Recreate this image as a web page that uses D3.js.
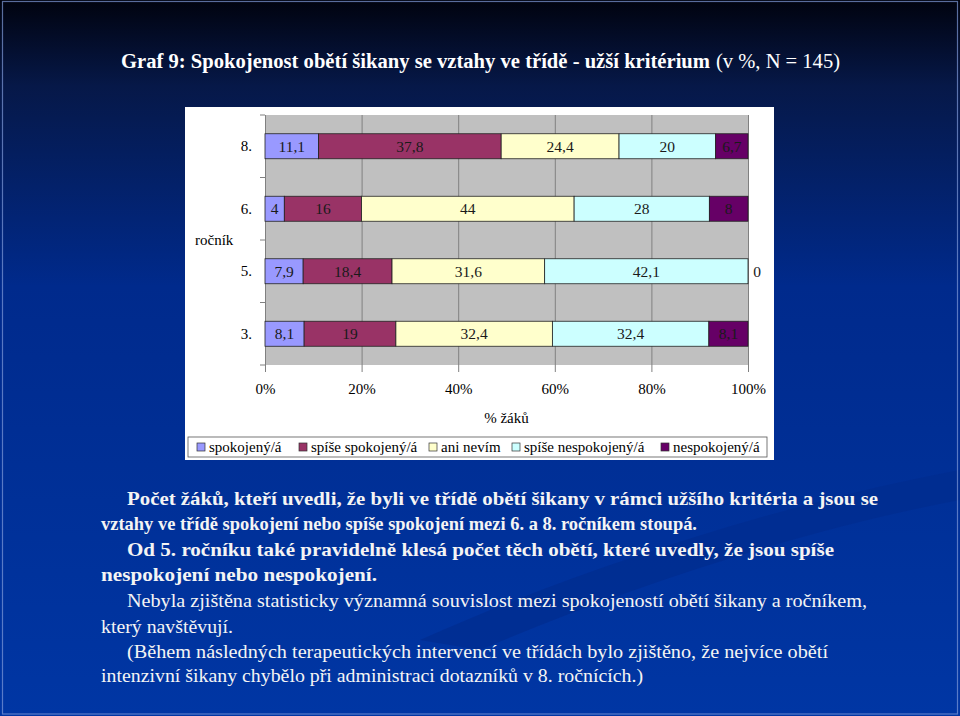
<!DOCTYPE html>
<html>
<head>
<meta charset="utf-8">
<script src="https://cdn.jsdelivr.net/npm/d3@7"></script>
<style>
  html, body { margin: 0; padding: 0; background: #02061c; }
  svg { display: block; }
  svg text { font-family: "Liberation Serif", "DejaVu Serif", serif; }
</style>
</head>
<body>
<svg id="chart"></svg>
<script>
// data
const categories = ["8.", "6.", "5.", "3."];
const seriesNames = ["spokojený/á", "spíše spokojený/á", "ani nevím", "spíše nespokojený/á", "nespokojený/á"];
const spokojeny = [11.1, 4, 7.9, 8.1];
const spiseSpokojeny = [37.8, 16, 18.4, 19];
const aniNevim = [24.4, 44, 31.6, 32.4];
const spiseNespokojeny = [20, 28, 42.1, 32.4];
const nespokojeny = [6.7, 8, 0, 8.1];
const seriesColors = ["#9999ff", "#993366", "#ffffcc", "#ccffff", "#660066"];
const xTicks = [0, 20, 40, 60, 80, 100];

const title = "Graf 9: Spokojenost obětí šikany se vztahy ve třídě - užší kritérium";
const titleTail = "(v %, N = 145)";
const notes = [
  { t: "Počet žáků, kteří uvedli, že byli ve třídě obětí šikany v rámci užšího kritéria a jsou se", x0: 127, x1: 878, bold: true },
  { t: "vztahy ve třídě spokojení nebo spíše spokojení mezi 6. a 8. ročníkem stoupá.", x0: 101, x1: 697, bold: true },
  { t: "Od 5. ročníku také pravidelně klesá počet těch obětí, které uvedly, že jsou spíše", x0: 127, x1: 834, bold: true },
  { t: "nespokojení nebo nespokojení.", x0: 101, x1: 377, bold: true },
  { t: "Nebyla zjištěna statisticky významná souvislost mezi spokojeností obětí šikany a ročníkem,", x0: 127, x1: 867, bold: false },
  { t: "který navštěvují.", x0: 101, x1: 233, bold: false },
  { t: "(Během následných terapeutických intervencí ve třídách bylo zjištěno, že nejvíce obětí", x0: 127, x1: 828, bold: false },
  { t: "intenzivní šikany chybělo při administraci dotazníků v 8. ročnících.)", x0: 101, x1: 643, bold: false }
];

const W = 960, H = 716;
const svg = d3.select("#chart").attr("width", W).attr("height", H);

// slide background
const defs = svg.append("defs");
const bg = defs.append("linearGradient").attr("id", "bg")
  .attr("x1", 0).attr("y1", 0).attr("x2", 0).attr("y2", 1);
bg.append("stop").attr("offset", "0%").attr("stop-color", "#01030f");
bg.append("stop").attr("offset", "12%").attr("stop-color", "#061848");
bg.append("stop").attr("offset", "40%").attr("stop-color", "#002a8c");
bg.append("stop").attr("offset", "100%").attr("stop-color", "#0036a4");
svg.append("rect").attr("width", W).attr("height", H).attr("fill", "url(#bg)");
// faint swoosh on the right
svg.append("path")
  .attr("d", "M 420 640 C 600 560, 800 500, 960 470 L 960 500 C 800 530, 620 590, 480 650 Z")
  .attr("fill", "#002c8e").attr("opacity", 0.7);
// thin light frame of the slide
svg.append("rect")
  .attr("x", 2.5).attr("y", 1.5).attr("width", W - 5).attr("height", H - 3.5)
  .attr("fill", "none").attr("stroke", "#7f9ad8").attr("stroke-width", 1.2).attr("opacity", 0.7);

// title
svg.append("text")
  .attr("x", 121).attr("y", 68)
  .attr("font-size", 20).attr("font-weight", "bold")
  .attr("fill", "#ffffff")
  .attr("textLength", 589).attr("lengthAdjust", "spacingAndGlyphs")
  .text(title);
svg.append("text")
  .attr("x", 716).attr("y", 68)
  .attr("font-size", 20)
  .attr("fill", "#ffffff")
  .attr("textLength", 124).attr("lengthAdjust", "spacingAndGlyphs")
  .text(titleTail);

// chart box
svg.append("rect")
  .attr("x", 185).attr("y", 107).attr("width", 589).attr("height", 353)
  .attr("fill", "#ffffff");

const margin = { left: 265, top: 115 };
const w = 483, h = 250;
const g = svg.append("g").attr("transform", `translate(${margin.left},${margin.top})`);

const xScale = d3.scaleLinear().domain([0, 100]).range([0, w]);
const yScale = d3.scaleBand().domain(categories).range([0, h])
  .paddingInner(0.6).paddingOuter(0.3);

g.append("rect").attr("width", w).attr("height", h).attr("fill", "#c0c0c0");

// gridlines
g.append("g")
  .attr("transform", `translate(0,${h})`)
  .call(d3.axisBottom(xScale).tickValues(xTicks).tickSize(-h).tickFormat(""))
  .call(a => a.select(".domain").remove())
  .call(a => a.selectAll("line").attr("stroke", "#808080"));

// x axis
g.append("g")
  .attr("transform", `translate(0,${h})`)
  .call(d3.axisBottom(xScale).tickValues(xTicks).tickSize(7).tickPadding(11)
    .tickFormat(d => d + "%"))
  .call(a => a.select(".domain").remove())
  .call(a => a.selectAll("line").attr("stroke", "#808080"))
  .call(a => a.selectAll("text").attr("font-family", null).attr("font-size", 15).attr("fill", "#000"));

// y axis
g.append("g")
  .call(d3.axisLeft(yScale).tickSize(0).tickPadding(13))
  .call(a => a.select(".domain").attr("stroke", "#808080"))
  .call(a => a.selectAll("text").attr("font-family", null).attr("font-size", 15).attr("fill", "#000"));
// tick marks at the band boundaries
const step = yScale.step();
g.append("g").selectAll("line")
  .data(d3.range(categories.length + 1))
  .join("line")
  .attr("x1", -5).attr("x2", 0)
  .attr("y1", i => i * step).attr("y2", i => i * step)
  .attr("stroke", "#808080");

g.append("text")
  .attr("x", -70).attr("y", 2 * step + 5)
  .attr("font-size", 15).attr("fill", "#000")
  .text("ročník");

// stacked bars
const table = categories.map((c, i) => ({
  cat: c,
  s0: spokojeny[i], s1: spiseSpokojeny[i], s2: aniNevim[i], s3: spiseNespokojeny[i], s4: nespokojeny[i]
}));
const keys = ["s0", "s1", "s2", "s3", "s4"];
const stacked = d3.stack().keys(keys)(table);

const layers = g.selectAll(".layer")
  .data(stacked)
  .join("g")
  .attr("class", "layer")
  .attr("fill", (d, i) => seriesColors[i]);

layers.selectAll("rect")
  .data(d => d)
  .join("rect")
  .attr("x", d => xScale(d[0]))
  .attr("y", d => yScale(d.data.cat))
  .attr("width", d => xScale(d[1]) - xScale(d[0]))
  .attr("height", yScale.bandwidth())
  .attr("stroke", "#222")
  .attr("stroke-width", 0.8);

layers.selectAll("text")
  .data((layer) => layer.map(d => ({ d, key: layer.key })))
  .join("text")
  .attr("x", ({ d }) => d[1] - d[0] > 0 ? xScale((d[0] + d[1]) / 2) : xScale(d[1]) + 9)
  .attr("y", ({ d }) => yScale(d.data.cat) + yScale.bandwidth() / 2)
  .attr("dy", "0.35em")
  .attr("text-anchor", "middle")
  .attr("font-size", 15.5)
  .attr("fill", "#1a1a1a")
  .text(({ d, key }) => String(d.data[key]).replace(".", ","));

// x axis title
svg.append("text")
  .attr("x", margin.left + w / 2).attr("y", 423)
  .attr("text-anchor", "middle")
  .attr("font-size", 15).attr("fill", "#000")
  .text("% žáků");

// legend
const legend = svg.append("g");
legend.append("rect")
  .attr("x", 188).attr("y", 437).attr("width", 579).attr("height", 20)
  .attr("fill", "#fff").attr("stroke", "#555").attr("stroke-width", 0.8);
const legendX = [197, 299, 429, 512, 661];
const items = legend.selectAll(".item")
  .data(seriesNames)
  .join("g")
  .attr("class", "item")
  .attr("transform", (d, i) => `translate(${legendX[i]},447)`);
items.append("rect")
  .attr("x", 0).attr("y", -4).attr("width", 8).attr("height", 8)
  .attr("fill", (d, i) => seriesColors[i])
  .attr("stroke", "#333").attr("stroke-width", 0.7);
items.append("text")
  .attr("x", 12).attr("dy", "0.35em")
  .attr("font-size", 15).attr("fill", "#000")
  .text(d => d);

// commentary below the chart
const lineY = [505, 530, 556, 581, 607, 633, 658, 682];
svg.append("g").selectAll("text")
  .data(notes)
  .join("text")
  .attr("x", d => d.x0)
  .attr("y", (d, i) => lineY[i])
  .attr("font-size", 19)
  .attr("font-weight", d => d.bold ? "bold" : "normal")
  .attr("fill", "#f4f4f4")
  .attr("textLength", d => d.x1 - d.x0)
  .attr("lengthAdjust", "spacingAndGlyphs")
  .text(d => d.t);
</script>
</body>
</html>
